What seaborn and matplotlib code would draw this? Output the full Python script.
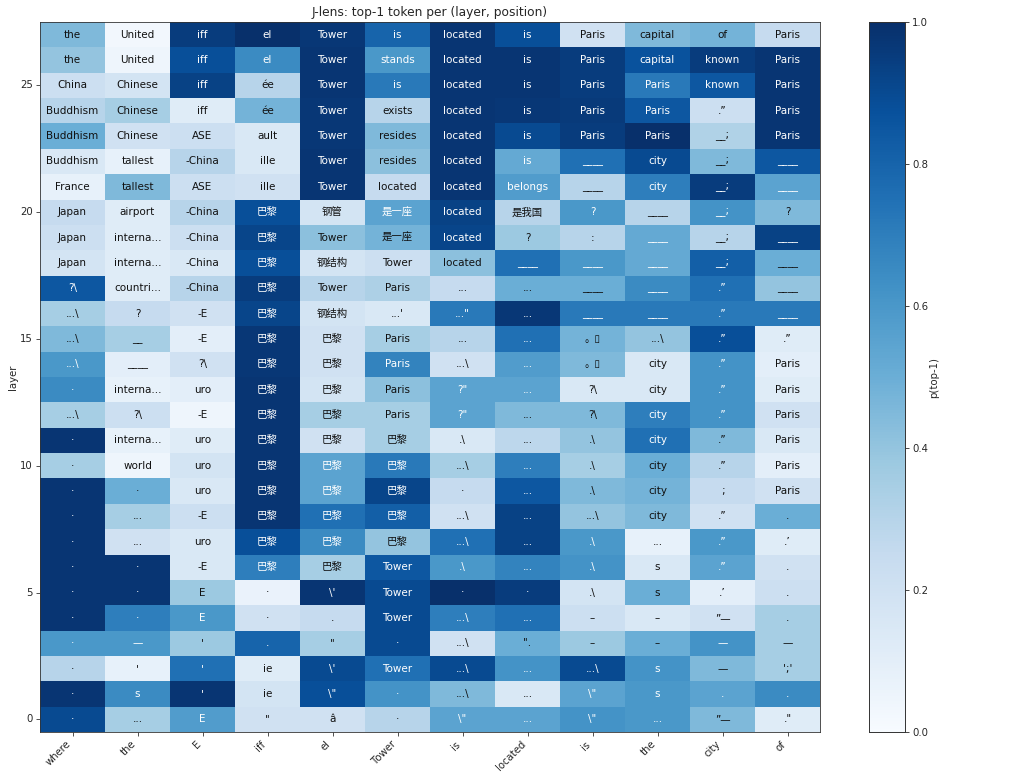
import numpy as np
import pandas as pd
import matplotlib
matplotlib.use("Agg")
import matplotlib.pyplot as plt
import seaborn as sns

positions = ["where", "the", "E", "iff", "el", "Tower", "is", "located", "is", "the", "city", "of"]
layers = list(range(28))

# token labels, listed from layer 27 (top) down to layer 0 (bottom)
tokens_top_down = [
    ["the", "United", "iff", "el", "Tower", "is", "located", "is", "Paris", "capital", "of", "Paris"],
    ["the", "United", "iff", "el", "Tower", "stands", "located", "is", "Paris", "capital", "known", "Paris"],
    ["China", "Chinese", "iff", "ée", "Tower", "is", "located", "is", "Paris", "Paris", "known", "Paris"],
    ["Buddhism", "Chinese", "iff", "ée", "Tower", "exists", "located", "is", "Paris", "Paris", ".”", "Paris"],
    ["Buddhism", "Chinese", "ASE", "ault", "Tower", "resides", "located", "is", "Paris", "Paris", "__;", "Paris"],
    ["Buddhism", "tallest", "-China", "ille", "Tower", "resides", "located", "is", "____", "city", "__;", "____"],
    ["France", "tallest", "ASE", "ille", "Tower", "located", "located", "belongs", "____", "city", "__;", "____"],
    ["Japan", "airport", "-China", "巴黎", "钢管", "是一座", "located", "是我国", "?", "____", "__;", "?"],
    ["Japan", "interna...", "-China", "巴黎", "Tower", "是一座", "located", "?", ":", "____", "__;", "____"],
    ["Japan", "interna...", "-China", "巴黎", "钢结构", "Tower", "located", "____", "____", "____", "__;", "____"],
    ["?\\", "countri...", "-China", "巴黎", "Tower", "Paris", "...", "...", "____", "____", ".”", "____"],
    ["...\\", "?", "-E", "巴黎", "钢结构", "...'", "...\"", "...", "____", "____", ".”", "____"],
    ["...\\", "__", "-E", "巴黎", "巴黎", "Paris", "...", "...", "。▯", "...\\", ".”", ".”"],
    ["...\\", "____", "?\\", "巴黎", "巴黎", "Paris", "...\\", "...", "。▯", "city", ".”", "Paris"],
    ["·", "interna...", "uro", "巴黎", "巴黎", "Paris", "?\"", "...", "?\\", "city", ".”", "Paris"],
    ["...\\", "?\\", "-E", "巴黎", "巴黎", "Paris", "?\"", "...", "?\\", "city", ".”", "Paris"],
    ["·", "interna...", "uro", "巴黎", "巴黎", "巴黎", ".\\", "...", ".\\", "city", ".”", "Paris"],
    ["·", "world", "uro", "巴黎", "巴黎", "巴黎", "...\\", "...", ".\\", "city", ".”", "Paris"],
    ["·", "·", "uro", "巴黎", "巴黎", "巴黎", "·", "...", ".\\", "city", ";", "Paris"],
    ["·", "...", "-E", "巴黎", "巴黎", "巴黎", "...\\", "...", "...\\", "city", ".”", "."],
    ["·", "...", "uro", "巴黎", "巴黎", "巴黎", "...\\", "...", ".\\", "...", ".”", ".’"],
    ["·", "·", "-E", "巴黎", "巴黎", "Tower", ".\\", "...", ".\\", "s", ".”", "."],
    ["·", "·", "E", "·", "\\'", "Tower", "·", "·", ".\\", "s", ".’", "."],
    ["·", "·", "E", "·", ".", "Tower", "...\\", "...", "–", "–", "”—", "."],
    ["·", "—", "'", ".", "\"", "·", "...\\", "\".", "–", "–", "—", "—"],
    ["·", "'", "'", "ie", "\\'", "Tower", "...\\", "...", "...\\", "s", "—", "';'"],
    ["·", "s", "'", "ie", "\\\"", "·", "...\\", "...", "\\\"", "s", ".", "."],
    ["·", "...", "E", "\"", "â", "·", "\\\"", "...", "\\\"", "...", "”—", ".\""],
]

# p(top-1) values, layer 27 (top) down to layer 0 (bottom)
probs_top_down = [
    [0.45, 0.03, 0.95, 1.00, 0.97, 0.80, 0.98, 0.88, 0.20, 0.45, 0.48, 0.25],
    [0.40, 0.05, 0.88, 0.65, 0.98, 0.60, 0.98, 0.98, 0.95, 0.87, 0.95, 0.98],
    [0.22, 0.18, 0.93, 0.30, 0.98, 0.72, 0.98, 0.98, 0.95, 0.72, 0.85, 0.98],
    [0.30, 0.35, 0.12, 0.48, 0.97, 0.30, 0.98, 0.97, 0.96, 0.85, 0.22, 0.98],
    [0.50, 0.20, 0.22, 0.15, 0.97, 0.45, 0.98, 0.90, 0.95, 1.00, 0.32, 0.98],
    [0.15, 0.08, 0.30, 0.15, 0.98, 0.42, 0.98, 0.52, 0.75, 0.90, 0.45, 0.85],
    [0.08, 0.45, 0.22, 0.20, 0.98, 0.25, 0.98, 0.58, 0.30, 0.70, 0.95, 0.55],
    [0.25, 0.12, 0.30, 0.88, 0.18, 0.55, 0.93, 0.30, 0.60, 0.30, 0.62, 0.45],
    [0.22, 0.12, 0.22, 0.92, 0.42, 0.48, 0.92, 0.38, 0.30, 0.52, 0.30, 0.93],
    [0.18, 0.12, 0.15, 0.88, 0.18, 0.22, 0.42, 0.75, 0.60, 0.52, 0.82, 0.50],
    [0.85, 0.12, 0.30, 0.95, 0.30, 0.33, 0.25, 0.50, 0.50, 0.65, 0.75, 0.40],
    [0.35, 0.25, 0.20, 0.92, 0.18, 0.15, 0.72, 0.97, 0.72, 0.72, 0.72, 0.72],
    [0.45, 0.35, 0.10, 0.97, 0.20, 0.35, 0.30, 0.75, 0.48, 0.40, 0.88, 0.12],
    [0.60, 0.10, 0.20, 0.97, 0.20, 0.68, 0.20, 0.58, 0.45, 0.15, 0.62, 0.10],
    [0.65, 0.08, 0.10, 0.98, 0.18, 0.42, 0.55, 0.55, 0.15, 0.15, 0.62, 0.12],
    [0.35, 0.22, 0.05, 0.98, 0.35, 0.35, 0.55, 0.45, 0.45, 0.70, 0.62, 0.20],
    [0.98, 0.08, 0.12, 0.98, 0.20, 0.35, 0.15, 0.28, 0.40, 0.75, 0.45, 0.15],
    [0.35, 0.05, 0.18, 0.98, 0.55, 0.72, 0.35, 0.70, 0.35, 0.50, 0.30, 0.10],
    [0.98, 0.50, 0.15, 0.98, 0.55, 0.92, 0.25, 0.85, 0.45, 0.48, 0.25, 0.20],
    [0.98, 0.35, 0.22, 0.98, 0.75, 0.82, 0.20, 0.93, 0.40, 0.45, 0.20, 0.50],
    [0.98, 0.20, 0.15, 0.88, 0.65, 0.40, 0.75, 0.93, 0.60, 0.08, 0.60, 0.12],
    [0.98, 0.98, 0.15, 0.70, 0.35, 0.85, 0.60, 0.68, 0.62, 0.15, 0.55, 0.20],
    [0.98, 0.98, 0.38, 0.07, 0.98, 0.90, 1.00, 0.95, 0.18, 0.50, 0.10, 0.22],
    [0.98, 0.70, 0.60, 0.20, 0.25, 0.90, 0.70, 0.75, 0.22, 0.15, 0.20, 0.35],
    [0.60, 0.60, 0.38, 0.80, 0.35, 0.90, 0.20, 0.50, 0.38, 0.50, 0.62, 0.35],
    [0.30, 0.08, 0.75, 0.12, 0.90, 0.75, 0.90, 0.62, 0.90, 0.62, 0.45, 0.35],
    [0.98, 0.65, 0.98, 0.18, 0.88, 0.62, 0.45, 0.15, 0.55, 0.60, 0.55, 0.65],
    [0.90, 0.35, 0.58, 0.20, 0.20, 0.30, 0.55, 0.55, 0.62, 0.60, 0.45, 0.12],
]

# bottom-up order (row index == layer)
probs = np.array(probs_top_down[::-1])
tokens = np.array(tokens_top_down[::-1], dtype=object)
df = pd.DataFrame(probs, index=layers, columns=positions)

sns.set_style("white")
plt.rcParams["font.family"] = ["DejaVu Sans", "Noto Sans CJK SC"]

FS = 7.3
fig = plt.figure(figsize=(10.24, 7.83), dpi=100)
W, H = 1024, 783
ax = fig.add_axes([40 / W, 1 - 732 / H, 780 / W, 710 / H])
cax = fig.add_axes([869 / W, 1 - 732 / H, 36 / W, 710 / H])

sns.heatmap(df, ax=ax, cmap="Blues", vmin=0, vmax=1, annot=tokens, fmt="",
            annot_kws={"fontsize": 7.5}, cbar_ax=cax,
            cbar_kws={"label": "p(top-1)", "ticks": [0, 0.2, 0.4, 0.6, 0.8, 1.0]},
            linewidths=0)
ax.invert_yaxis()

# text colour by value
for t in ax.texts:
    x, y = t.get_position()
    v = probs[int(y), int(x)]
    t.set_color("white" if v > 0.5 else "#111111")

ax.set_xticks(np.arange(len(positions)) + 0.5)
ax.set_xticklabels(positions, rotation=45, ha="right", fontsize=FS)
ax.set_yticks(np.arange(0, 28, 5) + 0.5)
ax.set_yticklabels([str(i) for i in range(0, 28, 5)], rotation=0, fontsize=FS)
ax.tick_params(axis="both", length=2.6, width=0.6, color="#333333", bottom=True, left=True, pad=2.5)
ax.set_ylabel("layer", fontsize=FS)
ax.yaxis.set_label_coords(-0.028, 0.5)
ax.set_xlabel("")
ax.set_title("J-lens: top-1 token per (layer, position)", fontsize=8.8, pad=4.5)
for s in ax.spines.values():
    s.set_visible(True)
    s.set_color("#333333")
    s.set_linewidth(0.6)

cax.tick_params(labelsize=FS, length=2.6, width=0.6, right=True, pad=2.5)
cax.set_yticklabels(["0.0", "0.2", "0.4", "0.6", "0.8", "1.0"])
for s in cax.spines.values():
    s.set_visible(True)
    s.set_linewidth(0.6)
    s.set_color("#333333")
cax.yaxis.label.set_size(FS)
cax.yaxis.set_label_coords(1.67, 0.5)

fig.savefig("out.png", dpi=100)
